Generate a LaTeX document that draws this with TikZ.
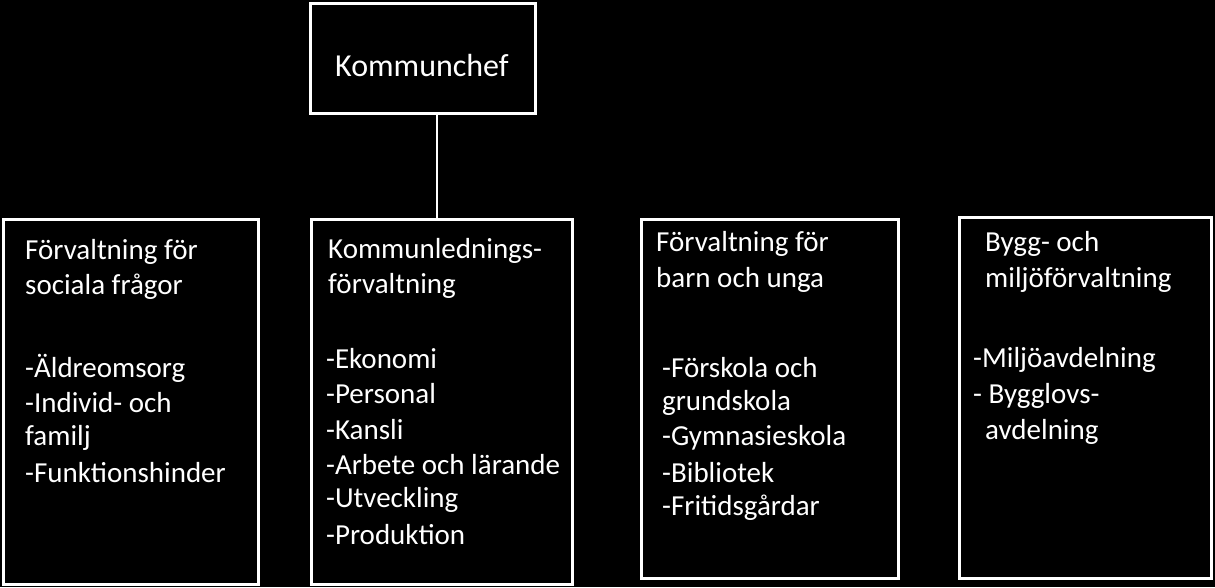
\documentclass[tikz,border=0pt]{standalone}
\usepackage{fontspec}
\setmainfont{Carlito}
\begin{document}
\begin{tikzpicture}[x=1pt,y=-1pt,
  box/.style={draw=white,line width=3pt},
  txt/.style={anchor=west,text=white,inner sep=0pt,font=\fontsize{29}{34}\selectfont}]
\fill[black] (0,0) rectangle (1215,587);
\useasboundingbox (0,0) rectangle (1215,587);
\draw[box] (310,3) rectangle (535,113);
\coordinate (kb) at (437,113);
\coordinate (bt) at (437,218);
\draw[white,line width=1.5pt] (kb) -- (bt);
\draw[box] (3,219) rectangle (258,584);
\draw[box] (311,219) rectangle (572,584);
\draw[box] (641,219) rectangle (898,578);
\draw[box] (959,217) rectangle (1211,578);
\node[txt,font=\fontsize{32}{38}\selectfont] (k) at (335,66) {Kommunchef};
% box 1
\node[txt] (a1) at (25,252) {Förvaltning för};
\node[txt] (a2) at (25,287) {sociala frågor};
\node[txt] (a3) at (25,368) {-Äldreomsorg};
\node[txt] (a4) at (25,403) {-Individ- och};
\node[txt] (a5) at (25,438) {familj};
\node[txt] (a6) at (25,473) {-Funktionshinder};
% box 2
\node[txt] (b1) at (328,251) {Kommunlednings-};
\node[txt] (b2) at (328,286) {förvaltning};
\node[txt] (b3) at (326,359) {-Ekonomi};
\node[txt] (b4) at (326,394) {-Personal};
\node[txt] (b5) at (326,430) {-Kansli};
\node[txt] (b6) at (326,465) {-Arbete och lärande};
\node[txt] (b7) at (326,500) {-Utveckling};
\node[txt] (b8) at (326,535) {-Produktion};
% box 3
\node[txt] (c1) at (656,244) {Förvaltning för};
\node[txt] (c2) at (656,280) {barn och unga};
\node[txt] (c3) at (662,368) {-Förskola och};
\node[txt] (c4) at (662,403) {grundskola};
\node[txt] (c5) at (662,438) {-Gymnasieskola};
\node[txt] (c6) at (662,473) {-Bibliotek};
\node[txt] (c7) at (662,508) {-Fritidsgårdar};
% box 4
\node[txt] (d1) at (985,244) {Bygg- och};
\node[txt] (d2) at (985,280) {miljöförvaltning};
\node[txt] (d3) at (973,360) {-Miljöavdelning};
\node[txt] (d4) at (973,396) {- Bygglovs-};
\node[txt] (d5) at (985,432) {avdelning};
\end{tikzpicture}
\end{document}
